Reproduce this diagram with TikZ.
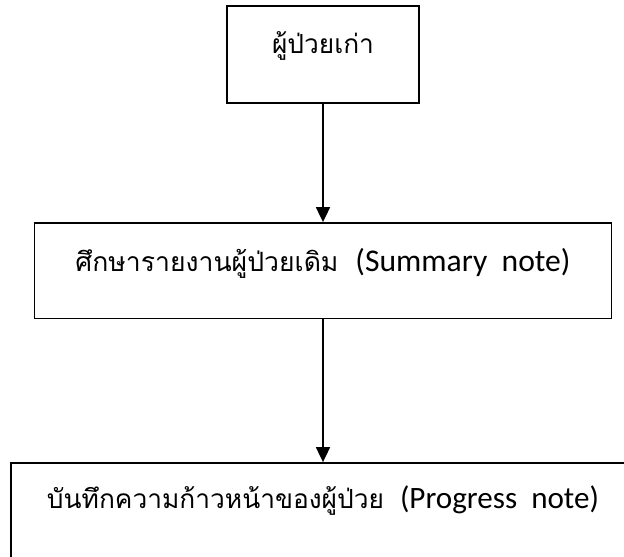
\documentclass[tikz,border=0pt]{standalone}
\usepackage{fontspec}
\setmainfont{Carlito}
\newfontfamily\thaifont[Script=Thai]{Loma}
\newcommand{\thaitext}[2]{\resizebox{#1}{!}{\thaifont\fontsize{28}{32}\selectfont #2}}
\newcommand{\latintext}[2]{\resizebox{#1}{!}{\fontsize{30}{34}\selectfont #2}}
\usetikzlibrary{arrows.meta}
\begin{document}
\begin{tikzpicture}[x=1pt,y=-1pt,
  flowbox/.style={draw=black, line width=1.8pt, inner sep=0pt, anchor=base},
  flowarrow/.style={line width=1.8pt, -{Triangle[width=14pt,length=15pt]}}]
\useasboundingbox (0,0) rectangle (624,557);
\clip (0,0) rectangle (624,557);
\fill[white] (0,0) rectangle (624,557);
\node[flowbox, minimum width=192pt, text height=47.5pt, text depth=49.5pt] (old) at (323,53.5) {\thaitext{102pt}{ผู้ป่วยเก่า}};
\node[flowbox, minimum width=577pt, text height=48pt, text depth=47.5pt] (summary) at (323,271) {\thaitext{263pt}{ศึกษารายงานผู้ป่วยเดิม}\hspace{17pt}\latintext{215pt}{(Summary\ \ note)}};
\node[flowbox, minimum width=624pt, text height=45pt, text depth=60pt] (progress) at (323,508) {\thaitext{337pt}{บันทึกความก้าวหน้าของผู้ป่วย}\hspace{16pt}\latintext{199pt}{(Progress\ \ note)}};
\draw[flowarrow] (old.south) -- (old.south |- summary.north);
\draw[flowarrow] (summary.south -| old.south) -- (old.south |- progress.north);
\end{tikzpicture}
\end{document}
